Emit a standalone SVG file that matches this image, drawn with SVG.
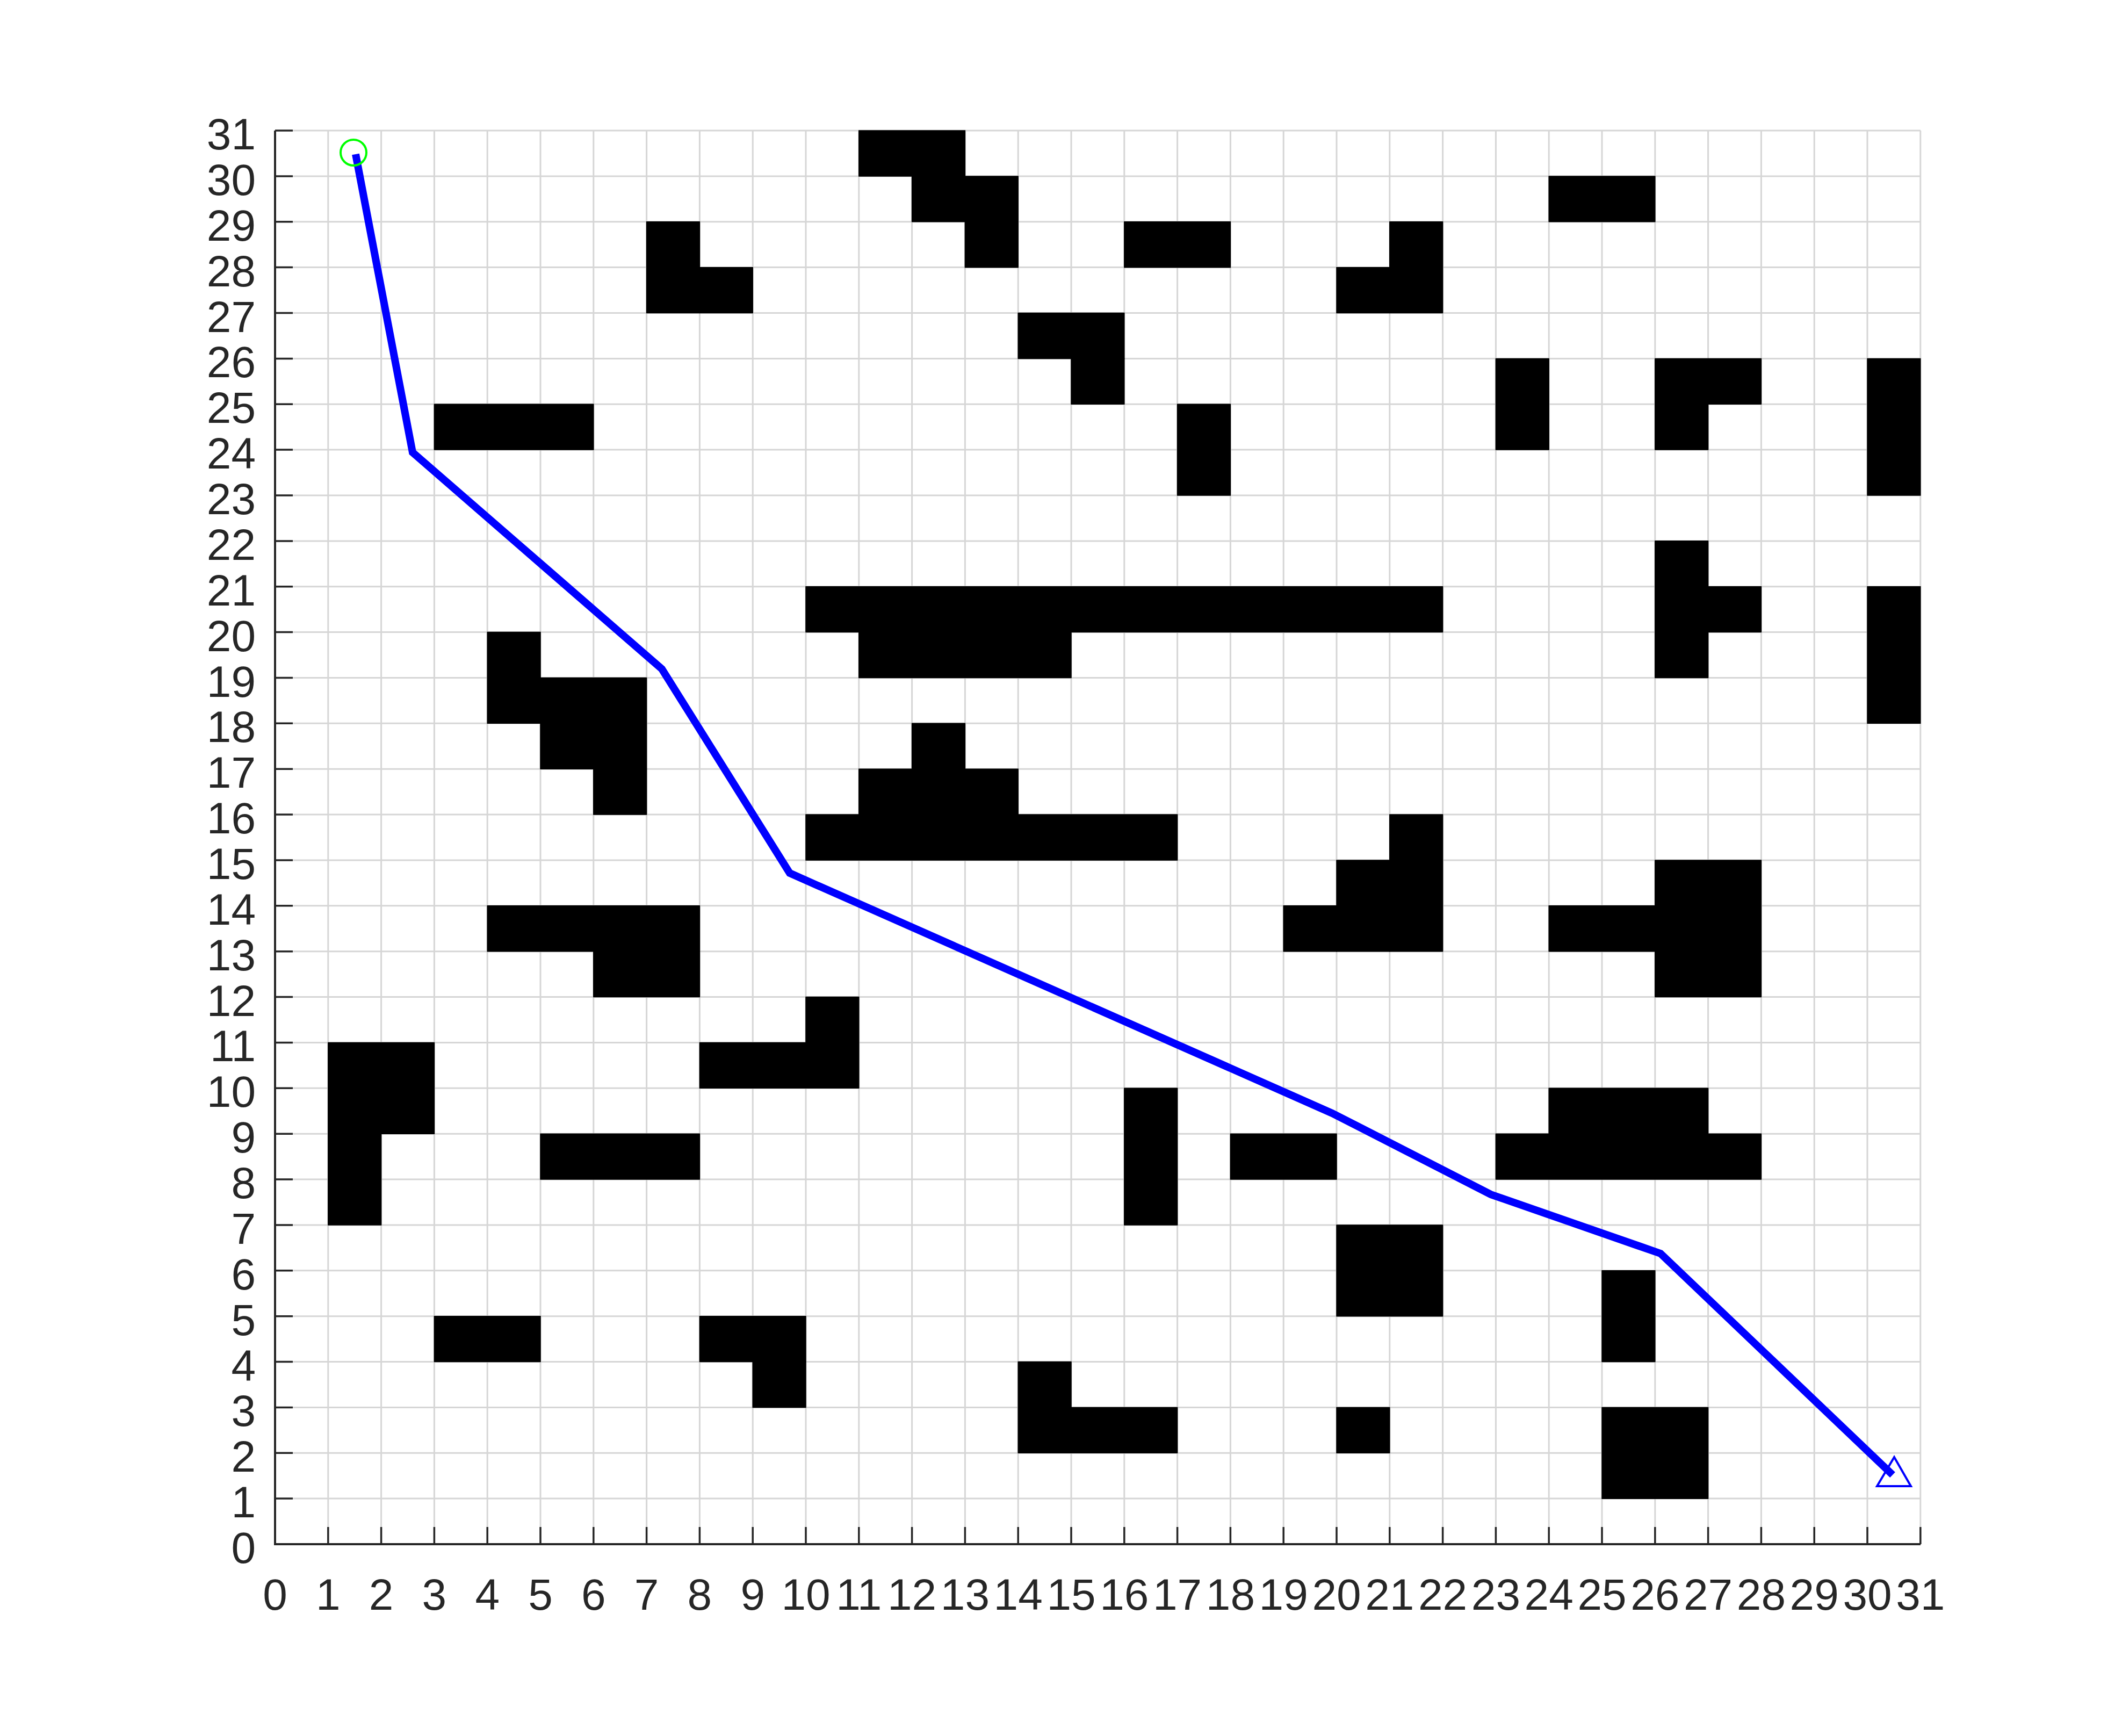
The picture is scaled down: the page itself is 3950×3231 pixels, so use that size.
<svg xmlns="http://www.w3.org/2000/svg" width="3950" height="3231" viewBox="0 0 3950 3231">
<style>
.grid{stroke:#d6d6d6;stroke-width:3;fill:none}
.axis{stroke:#262626;stroke-width:4;fill:none}
.tick{stroke:#262626;stroke-width:3.5;fill:none}
.lbl{font-family:"Liberation Sans",Arial,sans-serif;font-size:82px;fill:#262626}
.xl{text-anchor:middle}
.yl{text-anchor:end}
.obs{fill:#000000;stroke:#000000;stroke-width:1.5;vector-effect:non-scaling-stroke}
</style>
<rect width="3950" height="3231" fill="#ffffff"/>
<g id="grid">
<path class="grid" d="M610.8 243V2874M709.6 243V2874M808.4 243V2874M907.2 243V2874M1006 243V2874M1104.8 243V2874M1203.6 243V2874M1302.4 243V2874M1401.2 243V2874M1500 243V2874M1598.8 243V2874M1697.6 243V2874M1796.4 243V2874M1895.2 243V2874M1994 243V2874M2092.8 243V2874M2191.6 243V2874M2290.4 243V2874M2389.2 243V2874M2488 243V2874M2586.8 243V2874M2685.6 243V2874M2784.4 243V2874M2883.2 243V2874M2982 243V2874M3080.8 243V2874M3179.6 243V2874M3278.4 243V2874M3377.2 243V2874M3476 243V2874M3574.8 243V2874"/>
<path class="grid" d="M512 2789.1H3575M512 2704.3H3575M512 2619.4H3575M512 2534.5H3575M512 2449.7H3575M512 2364.8H3575M512 2279.9H3575M512 2195H3575M512 2110.2H3575M512 2025.3H3575M512 1940.4H3575M512 1855.6H3575M512 1770.7H3575M512 1685.8H3575M512 1601H3575M512 1516.1H3575M512 1431.2H3575M512 1346.3H3575M512 1261.5H3575M512 1176.6H3575M512 1091.7H3575M512 1006.9H3575M512 922H3575M512 837.1H3575M512 752.3H3575M512 667.4H3575M512 582.5H3575M512 497.6H3575M512 412.8H3575M512 327.9H3575M512 243H3575"/>
</g>
<g id="obstacles" transform="translate(512 2874) scale(98.8 -84.87)">
<rect class="obs" x="11" y="30" width="2" height="1"/>
<rect class="obs" x="12" y="29" width="2" height="1"/>
<rect class="obs" x="13" y="28" width="1" height="1"/>
<rect class="obs" x="24" y="29" width="2" height="1"/>
<rect class="obs" x="7" y="27" width="1" height="2"/>
<rect class="obs" x="8" y="27" width="1" height="1"/>
<rect class="obs" x="16" y="28" width="2" height="1"/>
<rect class="obs" x="21" y="27" width="1" height="2"/>
<rect class="obs" x="20" y="27" width="1" height="1"/>
<rect class="obs" x="14" y="26" width="2" height="1"/>
<rect class="obs" x="15" y="25" width="1" height="1"/>
<rect class="obs" x="23" y="24" width="1" height="2"/>
<rect class="obs" x="26" y="24" width="1" height="2"/>
<rect class="obs" x="27" y="25" width="1" height="1"/>
<rect class="obs" x="30" y="23" width="1" height="3"/>
<rect class="obs" x="3" y="24" width="3" height="1"/>
<rect class="obs" x="17" y="23" width="1" height="2"/>
<rect class="obs" x="26" y="19" width="1" height="3"/>
<rect class="obs" x="27" y="20" width="1" height="1"/>
<rect class="obs" x="30" y="18" width="1" height="3"/>
<rect class="obs" x="10" y="20" width="12" height="1"/>
<rect class="obs" x="11" y="19" width="4" height="1"/>
<rect class="obs" x="4" y="18" width="1" height="2"/>
<rect class="obs" x="5" y="17" width="2" height="2"/>
<rect class="obs" x="6" y="16" width="1" height="1"/>
<rect class="obs" x="12" y="17" width="1" height="1"/>
<rect class="obs" x="11" y="16" width="3" height="1"/>
<rect class="obs" x="10" y="15" width="7" height="1"/>
<rect class="obs" x="21" y="13" width="1" height="3"/>
<rect class="obs" x="20" y="13" width="1" height="2"/>
<rect class="obs" x="19" y="13" width="1" height="1"/>
<rect class="obs" x="26" y="12" width="2" height="3"/>
<rect class="obs" x="24" y="13" width="2" height="1"/>
<rect class="obs" x="4" y="13" width="4" height="1"/>
<rect class="obs" x="6" y="12" width="2" height="1"/>
<rect class="obs" x="10" y="10" width="1" height="2"/>
<rect class="obs" x="8" y="10" width="2" height="1"/>
<rect class="obs" x="1" y="9" width="2" height="2"/>
<rect class="obs" x="1" y="7" width="1" height="2"/>
<rect class="obs" x="5" y="8" width="3" height="1"/>
<rect class="obs" x="16" y="7" width="1" height="3"/>
<rect class="obs" x="18" y="8" width="2" height="1"/>
<rect class="obs" x="24" y="9" width="3" height="1"/>
<rect class="obs" x="23" y="8" width="5" height="1"/>
<rect class="obs" x="20" y="5" width="2" height="2"/>
<rect class="obs" x="25" y="4" width="1" height="2"/>
<rect class="obs" x="3" y="4" width="2" height="1"/>
<rect class="obs" x="8" y="4" width="2" height="1"/>
<rect class="obs" x="9" y="3" width="1" height="1"/>
<rect class="obs" x="14" y="2" width="1" height="2"/>
<rect class="obs" x="15" y="2" width="2" height="1"/>
<rect class="obs" x="20" y="2" width="1" height="1"/>
<rect class="obs" x="25" y="1" width="2" height="2"/>
</g>
<g id="axes">
<path class="axis" d="M512 243V2874H3575"/>
<path class="tick" d="M512 2789.1h33M512 2704.3h33M512 2619.4h33M512 2534.5h33M512 2449.7h33M512 2364.8h33M512 2279.9h33M512 2195h33M512 2110.2h33M512 2025.3h33M512 1940.4h33M512 1855.6h33M512 1770.7h33M512 1685.8h33M512 1601h33M512 1516.1h33M512 1431.2h33M512 1346.3h33M512 1261.5h33M512 1176.6h33M512 1091.7h33M512 1006.9h33M512 922h33M512 837.1h33M512 752.3h33M512 667.4h33M512 582.5h33M512 497.6h33M512 412.8h33M512 327.9h33M512 243h33"/>
<path class="tick" d="M610.8 2874v-32M709.6 2874v-32M808.4 2874v-32M907.2 2874v-32M1006 2874v-32M1104.8 2874v-32M1203.6 2874v-32M1302.4 2874v-32M1401.2 2874v-32M1500 2874v-32M1598.8 2874v-32M1697.6 2874v-32M1796.4 2874v-32M1895.2 2874v-32M1994 2874v-32M2092.8 2874v-32M2191.6 2874v-32M2290.4 2874v-32M2389.2 2874v-32M2488 2874v-32M2586.8 2874v-32M2685.6 2874v-32M2784.4 2874v-32M2883.2 2874v-32M2982 2874v-32M3080.8 2874v-32M3179.6 2874v-32M3278.4 2874v-32M3377.2 2874v-32M3476 2874v-32M3574.8 2874v-32"/>
</g>
<g id="xlabels" class="lbl xl">
<text x="512" y="2996">0</text><text x="610.8" y="2996">1</text><text x="709.6" y="2996">2</text><text x="808.4" y="2996">3</text><text x="907.2" y="2996">4</text><text x="1006" y="2996">5</text><text x="1104.8" y="2996">6</text><text x="1203.6" y="2996">7</text><text x="1302.4" y="2996">8</text><text x="1401.2" y="2996">9</text><text x="1500" y="2996">10</text><text x="1598.8" y="2996">11</text><text x="1697.6" y="2996">12</text><text x="1796.4" y="2996">13</text><text x="1895.2" y="2996">14</text><text x="1994" y="2996">15</text><text x="2092.8" y="2996">16</text><text x="2191.6" y="2996">17</text><text x="2290.4" y="2996">18</text><text x="2389.2" y="2996">19</text><text x="2488" y="2996">20</text><text x="2586.8" y="2996">21</text><text x="2685.6" y="2996">22</text><text x="2784.4" y="2996">23</text><text x="2883.2" y="2996">24</text><text x="2982" y="2996">25</text><text x="3080.8" y="2996">26</text><text x="3179.6" y="2996">27</text><text x="3278.4" y="2996">28</text><text x="3377.2" y="2996">29</text><text x="3476" y="2996">30</text><text x="3574.8" y="2996">31</text>
</g>
<g id="ylabels" class="lbl yl">
<text x="476" y="2909">0</text><text x="476" y="2824.1">1</text><text x="476" y="2739.3">2</text><text x="476" y="2654.4">3</text><text x="476" y="2569.5">4</text><text x="476" y="2484.7">5</text><text x="476" y="2399.8">6</text><text x="476" y="2314.9">7</text><text x="476" y="2230">8</text><text x="476" y="2145.2">9</text><text x="476" y="2060.3">10</text><text x="476" y="1975.4">11</text><text x="476" y="1890.6">12</text><text x="476" y="1805.7">13</text><text x="476" y="1720.8">14</text><text x="476" y="1636">15</text><text x="476" y="1551.1">16</text><text x="476" y="1466.2">17</text><text x="476" y="1381.3">18</text><text x="476" y="1296.5">19</text><text x="476" y="1211.6">20</text><text x="476" y="1126.7">21</text><text x="476" y="1041.9">22</text><text x="476" y="957">23</text><text x="476" y="872.1">24</text><text x="476" y="787.3">25</text><text x="476" y="702.4">26</text><text x="476" y="617.5">27</text><text x="476" y="532.6">28</text><text x="476" y="447.8">29</text><text x="476" y="362.9">30</text><text x="476" y="278">31</text>
</g>
<g id="path">
<polyline points="662,287 768,842 1232,1245 1470,1625 2480,2072 2775,2223 3091,2333 3523,2745" fill="none" stroke="#0000ff" stroke-width="14" stroke-linejoin="miter"/>
</g>
<g id="start">
<circle cx="658" cy="284" r="24" fill="none" stroke="#00ff00" stroke-width="4"/>
</g>
<g id="goal">
<polygon points="3526,2712 3557,2766 3494,2766" fill="none" stroke="#0000ff" stroke-width="4"/>
</g>
</svg>
